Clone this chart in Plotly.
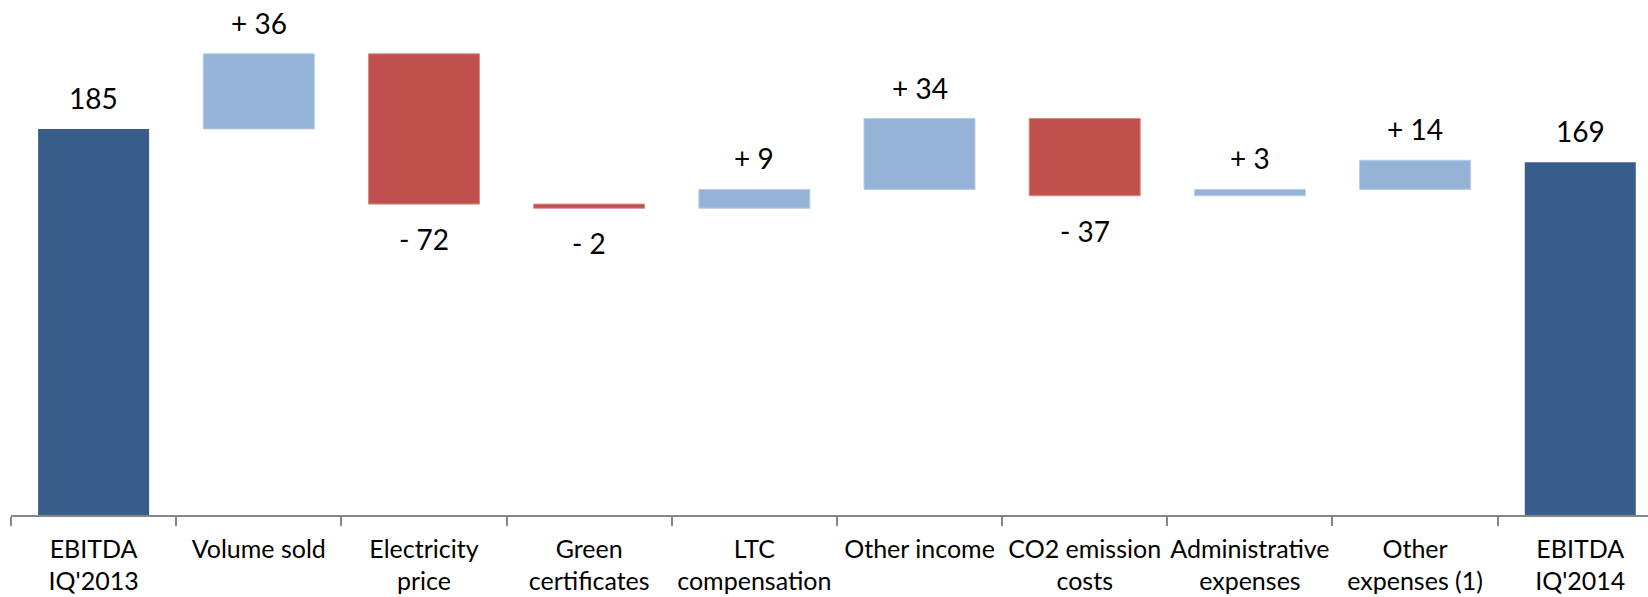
import plotly.graph_objects as go

# EBITDA bridge: IQ'2013 -> IQ'2014
categories = [
    "EBITDA<br>IQ'2013", "Volume sold", "Electricity<br>price", "Green<br>certificates",
    "LTC<br>compensation", "Other income", "CO2 emission<br>costs",
    "Administrative<br>expenses", "Other<br>expenses (1)", "EBITDA<br>IQ'2014",
]
values = [185, 36, -72, -2, 9, 34, -37, 3, 14, 169]
measures = ["absolute"] + ["relative"] * 8 + ["absolute"]

DARK = "#385D8A"
LIGHT = "#95B3D7"
RED = "#C0504D"

fig = go.Figure(go.Waterfall(
    x=categories,
    y=values,
    measure=measures,
    width=0.672,
    connector=dict(visible=False),
    increasing=dict(marker=dict(color=LIGHT, line=dict(color="#B9CDE5", width=1))),
    decreasing=dict(marker=dict(color=RED, line=dict(color="#D98A88", width=1))),
    totals=dict(marker=dict(color=DARK, line=dict(color=DARK, width=0))),
    hoverinfo="skip",
))

# value labels: above the top for totals / increases, below the bottom for decreases
running = 0
for cat, v, m in zip(categories, values, measures):
    if m == "absolute":
        running = v
        fig.add_annotation(x=cat, y=v, text=f"{v}", showarrow=False,
                           yanchor="middle", yshift=31)
    else:
        running += v
        if v >= 0:
            fig.add_annotation(x=cat, y=running, text=f"+ {v}", showarrow=False,
                               yanchor="middle", yshift=31)
        else:
            fig.add_annotation(x=cat, y=running, text=f"- {abs(v)}", showarrow=False,
                               yanchor="middle", yshift=-35)

fig.update_annotations(font=dict(family="Lato, sans-serif", size=28, color="#000000"))

fig.update_layout(
    width=1648, height=597,
    margin=dict(l=11, r=0, t=0, b=82),
    paper_bgcolor="white", plot_bgcolor="white",
    showlegend=False,
    xaxis=dict(
        type="category",
        range=[-0.5, 9.41],
        tickson="boundaries",
        ticks="outside", ticklen=9, tickwidth=2, tickcolor="#868686",
        showline=True, linecolor="#868686", linewidth=1.5,
        showgrid=False, zeroline=False,
        tickangle=0, automargin=False,
        tickfont=dict(family="Lato, sans-serif", size=25, color="#000000"),
        ticklabelstandoff=11,
    ),
    yaxis=dict(range=[0, 246.8], visible=False, showgrid=False, zeroline=False),
)

fig.write_html("out.html")
